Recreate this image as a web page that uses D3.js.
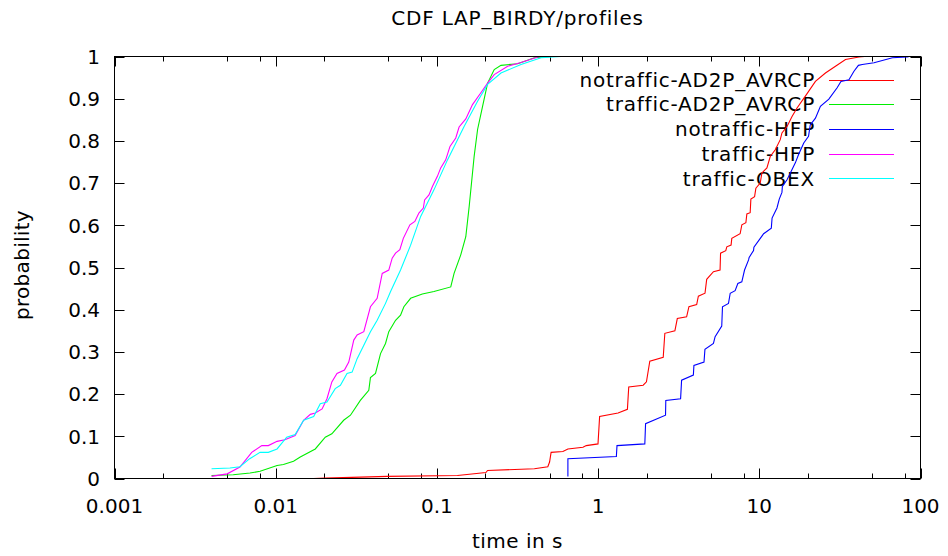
<!DOCTYPE html>
<html lang="en">
<head>
<meta charset="UTF-8">
<title>CDF LAP_BIRDY/profiles</title>
<script src="https://d3js.org/d3.v7.min.js"></script>
<style>
  body { margin: 0; background: #fff; }
  text { font-family: "DejaVu Sans", sans-serif; font-size: 20px; fill: #000; }
  .wide { letter-spacing: 0.8px; }
</style>
</head>
<body>
<script>
// [time in s, probability]
const notrafficA2dp = [[0.0172,0.000],[0.0203,0.001],[0.0492,0.005],[0.1342,0.007],[0.2013,0.014],[0.2063,0.019],[0.4024,0.023],[0.4875,0.028],[0.5,0.039],[0.511,0.062],[0.6046,0.064],[0.6496,0.070],[0.8054,0.074],[0.8444,0.078],[0.9986,0.082],[1.022,0.147],[1.330,0.155],[1.520,0.164],[1.549,0.217],[1.904,0.221],[1.995,0.229],[2.093,0.278],[2.535,0.287],[2.594,0.344],[2.995,0.350],[3.100,0.379],[3.541,0.383],[3.660,0.407],[4.088,0.412],[4.188,0.432],[4.604,0.439],[4.717,0.472],[5.194,0.490],[5.710,0.494],[5.75,0.534],[6.194,0.540],[6.287,0.549],[6.683,0.553],[6.751,0.569],[7.603,0.580],[7.793,0.601],[8.254,0.606],[8.372,0.627],[8.777,0.630],[8.866,0.662],[9.349,0.668],[9.524,0.688],[10.13,0.700],[10.38,0.724],[11.15,0.736],[11.69,0.763],[12.56,0.779],[13.49,0.803],[13.82,0.819],[14.86,0.834],[15.96,0.858],[17.14,0.878],[19.31,0.906],[22.29,0.941],[25.72,0.961],[29.69,0.977],[34.26,0.993],[41.53,0.999],[45,1]];

const trafficA2dp = [[0.0040,0.007],[0.00545,0.009],[0.00693,0.013],[0.0080,0.017],[0.0102,0.031],[0.01117,0.033],[0.0129,0.041],[0.0142,0.051],[0.0176,0.070],[0.0203,0.098],[0.0223,0.106],[0.0264,0.138],[0.0291,0.150],[0.0335,0.185],[0.0378,0.209],[0.0387,0.239],[0.0416,0.249],[0.0447,0.296],[0.0480,0.320],[0.0503,0.348],[0.0554,0.375],[0.0595,0.387],[0.0624,0.407],[0.0687,0.427],[0.0812,0.437],[0.0959,0.443],[0.1219,0.454],[0.1278,0.486],[0.1406,0.530],[0.1511,0.573],[0.1585,0.644],[0.1702,0.763],[0.1788,0.827],[0.1920,0.882],[0.2063,0.937],[0.2268,0.969],[0.2497,0.979],[0.3171,0.983],[0.4024,0.997],[0.511,1]];

const notrafficHfp = [[0.6496,0.005],[0.6496,0.047],[1.298,0.052],[1.31,0.078],[1.949,0.082],[1.97,0.130],[2.62,0.150],[2.63,0.185],[3.249,0.189],[3.296,0.233],[3.899,0.245],[3.93,0.268],[4.539,0.276],[4.60,0.306],[5.194,0.320],[5.32,0.336],[5.848,0.361],[5.91,0.407],[6.44,0.415],[6.60,0.439],[7.08,0.445],[7.36,0.462],[7.79,0.466],[8.1,0.494],[8.58,0.518],[8.65,0.524],[9.21,0.540],[9.26,0.548],[10.64,0.580],[11.87,0.593],[12.0,0.617],[12.87,0.641],[13.3,0.662],[13.82,0.678],[13.9,0.692],[14.86,0.708],[15.58,0.724],[16.73,0.748],[17.5,0.767],[18.87,0.795],[20.2,0.811],[20.7,0.838],[22.3,0.854],[23.94,0.882],[27.0,0.899],[30.4,0.926],[32.1,0.941],[35.98,0.945],[38.66,0.965],[41.2,0.979],[43.54,0.981],[51.5,0.985],[66.95,0.997],[83.0,0.999],[85,1]];

const trafficHfp = [[0.0040,0.005],[0.0050,0.011],[0.0060,0.027],[0.0071,0.062],[0.0082,0.078],[0.0090,0.078],[0.0102,0.088],[0.0114,0.092],[0.0132,0.102],[0.0149,0.138],[0.0164,0.152],[0.0176,0.155],[0.0194,0.165],[0.0208,0.189],[0.0223,0.229],[0.0240,0.249],[0.0267,0.257],[0.0284,0.276],[0.0305,0.328],[0.0320,0.340],[0.0352,0.348],[0.0387,0.407],[0.0426,0.427],[0.0458,0.486],[0.0503,0.494],[0.0528,0.522],[0.0554,0.534],[0.0589,0.542],[0.0619,0.569],[0.0680,0.601],[0.0730,0.609],[0.0773,0.629],[0.0824,0.641],[0.0839,0.660],[0.0893,0.672],[0.0938,0.692],[0.1007,0.716],[0.1056,0.736],[0.1134,0.755],[0.1206,0.787],[0.1309,0.807],[0.1373,0.833],[0.1511,0.852],[0.1663,0.886],[0.1874,0.914],[0.2063,0.937],[0.2268,0.957],[0.2748,0.977],[0.3325,0.986],[0.4226,0.999],[0.45,1]];

const trafficObex = [[0.0040,0.023],[0.0052,0.025],[0.0060,0.028],[0.0069,0.047],[0.0080,0.062],[0.0090,0.062],[0.0102,0.070],[0.0117,0.098],[0.0132,0.104],[0.0149,0.138],[0.0172,0.147],[0.0189,0.177],[0.0208,0.181],[0.0234,0.213],[0.0252,0.221],[0.0277,0.249],[0.0298,0.252],[0.0320,0.284],[0.0352,0.316],[0.0387,0.348],[0.0426,0.375],[0.0480,0.415],[0.0516,0.443],[0.0595,0.494],[0.0687,0.553],[0.0793,0.621],[0.0959,0.684],[0.1163,0.755],[0.1475,0.834],[0.1788,0.894],[0.2063,0.934],[0.2497,0.961],[0.3325,0.981],[0.4429,0.997],[0.59,1]];

const seriesNames = ["notraffic-AD2P_AVRCP", "traffic-AD2P_AVRCP", "notraffic-HFP", "traffic-HFP", "traffic-OBEX"];
const seriesData = [notrafficA2dp, trafficA2dp, notrafficHfp, trafficHfp, trafficObex];
const seriesColors = ["#ff0000", "#00ee00", "#0000ff", "#ff00ff", "#00ffff"];

const xMajor = [0.001, 0.01, 0.1, 1, 10, 100];
const xLabels = ["0.001", "0.01", "0.1", "1", "10", "100"];
const xMinor = [0.002, 0.005, 0.008, 0.02, 0.05, 0.08, 0.2, 0.5, 0.8, 2, 5, 8, 20, 50, 80];
const yTicks = [0, 0.1, 0.2, 0.3, 0.4, 0.5, 0.6, 0.7, 0.8, 0.9, 1];
const yLabels = ["0", "0.1", "0.2", "0.3", "0.4", "0.5", "0.6", "0.7", "0.8", "0.9", "1"];

const width = 948, height = 556;
const plotLeft = 114.5, plotRight = 920.5, plotTop = 56.5, plotBottom = 478.5;

const svg = d3.select("body").append("svg")
    .attr("width", width)
    .attr("height", height);

const x = d3.scaleLog().domain([0.001, 100]).range([plotLeft, plotRight]);
const y = d3.scaleLinear().domain([0, 1]).range([plotBottom, plotTop]);

// ticks (inward, mirrored on all sides)
const ticks = svg.append("g").attr("stroke", "#000").attr("stroke-width", 1);
xMajor.forEach(v => {
    const px = Math.round(x(v)) + 0.5;
    ticks.append("line").attr("x1", px).attr("x2", px).attr("y1", plotBottom).attr("y2", plotBottom - 10);
    ticks.append("line").attr("x1", px).attr("x2", px).attr("y1", plotTop).attr("y2", plotTop + 10);
});
xMinor.forEach(v => {
    const px = Math.round(x(v)) + 0.5;
    ticks.append("line").attr("x1", px).attr("x2", px).attr("y1", plotBottom).attr("y2", plotBottom - 5);
    ticks.append("line").attr("x1", px).attr("x2", px).attr("y1", plotTop).attr("y2", plotTop + 5);
});
yTicks.forEach(v => {
    const py = Math.round(y(v)) + 0.5;
    ticks.append("line").attr("x1", plotLeft).attr("x2", plotLeft + 10).attr("y1", py).attr("y2", py);
    ticks.append("line").attr("x1", plotRight).attr("x2", plotRight - 10).attr("y1", py).attr("y2", py);
});

svg.append("g").selectAll("text")
    .data(xMajor)
    .enter().append("text")
    .attr("x", d => x(d))
    .attr("y", 513)
    .attr("text-anchor", "middle")
    .text((d, i) => xLabels[i]);

svg.append("g").selectAll("text")
    .data(yTicks)
    .enter().append("text")
    .attr("x", 100)
    .attr("y", d => y(d))
    .attr("dy", "0.36em")
    .attr("text-anchor", "end")
    .text((d, i) => yLabels[i]);

// legend
const key = svg.append("g");
seriesNames.forEach((name, i) => {
    const ky = 79.5 + i * 24.7;
    key.append("text")
        .attr("class", "wide")
        .attr("x", 815)
        .attr("y", ky)
        .attr("dy", "0.36em")
        .attr("text-anchor", "end")
        .text(name);
    key.append("line")
        .attr("x1", 829).attr("x2", 894)
        .attr("y1", Math.round(ky) + 0.5).attr("y2", Math.round(ky) + 0.5)
        .attr("stroke", seriesColors[i])
        .attr("stroke-width", 1);
});

// curves
const line = d3.line()
    .x(d => x(d[0]))
    .y(d => y(d[1]));

svg.append("g").selectAll("path")
    .data(seriesData)
    .enter().append("path")
    .attr("d", d => line(d))
    .attr("fill", "none")
    .attr("stroke", (d, i) => seriesColors[i])
    .attr("stroke-width", 1.1);

// frame
svg.append("rect")
    .attr("x", plotLeft).attr("y", plotTop)
    .attr("width", plotRight - plotLeft).attr("height", plotBottom - plotTop)
    .attr("fill", "none")
    .attr("stroke", "#000")
    .attr("stroke-width", 1);

svg.append("text")
    .attr("class", "wide")
    .attr("x", (plotLeft + plotRight) / 2)
    .attr("y", 25)
    .attr("text-anchor", "middle")
    .text("CDF LAP_BIRDY/profiles");

svg.append("text")
    .attr("x", (plotLeft + plotRight) / 2)
    .attr("y", 548)
    .attr("text-anchor", "middle")
    .style("letter-spacing", "0.5px")
    .text("time in s");

svg.append("text")
    .attr("transform", "translate(29,265) rotate(-90)")
    .attr("text-anchor", "middle")
    .style("letter-spacing", "0.3px")
    .text("probability");
</script>
</body>
</html>
